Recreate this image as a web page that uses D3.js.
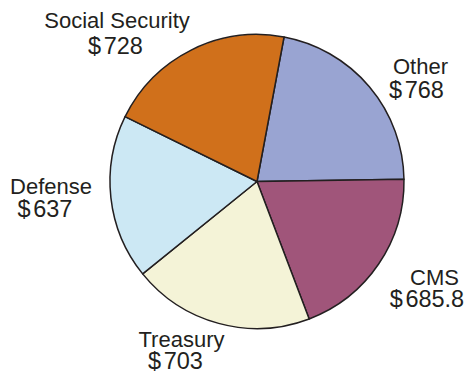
<!DOCTYPE html>
<html>
<head>
<meta charset="utf-8">
<script src="https://cdn.jsdelivr.net/npm/d3@7"></script>
<style>
  html, body { margin: 0; padding: 0; background: #ffffff; }
  svg { display: block; }
  text { font-family: "Liberation Sans", Arial, Helvetica, sans-serif; fill: #231f20; }
</style>
</head>
<body>
<svg id="chart" width="468" height="374"></svg>
<script>
// Spending by agency (billions of dollars)
const categories = ["Other", "CMS", "Treasury", "Defense", "Social Security"];
const values = [768, 685.8, 703, 637, 728];
const valueLabels = ["768", "685.8", "703", "637", "728"];
const colors = ["#99a4d2", "#a0557a", "#f4f3d7", "#cce8f4", "#d0701b"];

const svg = d3.select("#chart");
const cx = 257, cy = 181.5, radius = 147;

const pie = d3.pie()
  .value(d => d.value)
  .sort(null)
  .startAngle(0.185)
  .endAngle(0.185 + 2 * Math.PI);

const arc = d3.arc().innerRadius(0).outerRadius(radius);

const data = categories.map((c, i) => ({
  name: c, value: values[i], label: valueLabels[i], color: colors[i]
}));

const g = svg.append("g").attr("transform", `translate(${cx},${cy})`);

g.selectAll("path.slice")
  .data(pie(data))
  .join("path")
  .attr("class", "slice")
  .attr("d", arc)
  .attr("fill", d => d.data.color)
  .attr("stroke", "#231f20")
  .attr("stroke-width", 1.5)
  .attr("stroke-linejoin", "round");

// Label anchors: [name x, name baseline, value x, value baseline]
const labelLayout = {
  "Other":           [420.5, 74, 416.5, 98],
  "CMS":             [434.5, 285, 427, 307],
  "Treasury":        [181.5, 346.5, 175.5, 369],
  "Defense":         [51, 194, 45, 217],
  "Social Security": [117, 28, 115.5, 54]
};

const labels = svg.selectAll("g.label")
  .data(data)
  .join("g")
  .attr("class", "label");

labels.append("text")
  .attr("x", d => labelLayout[d.name][0])
  .attr("y", d => labelLayout[d.name][1])
  .attr("text-anchor", "middle")
  .attr("font-size", 22)
  .text(d => d.name);

const vt = labels.append("text")
  .attr("x", d => labelLayout[d.name][2])
  .attr("y", d => labelLayout[d.name][3])
  .attr("text-anchor", "middle")
  .attr("font-size", 23.5);
vt.append("tspan").text("$");
vt.append("tspan").attr("dx", 2.5).text(d => d.label);
</script>
</body>
</html>
